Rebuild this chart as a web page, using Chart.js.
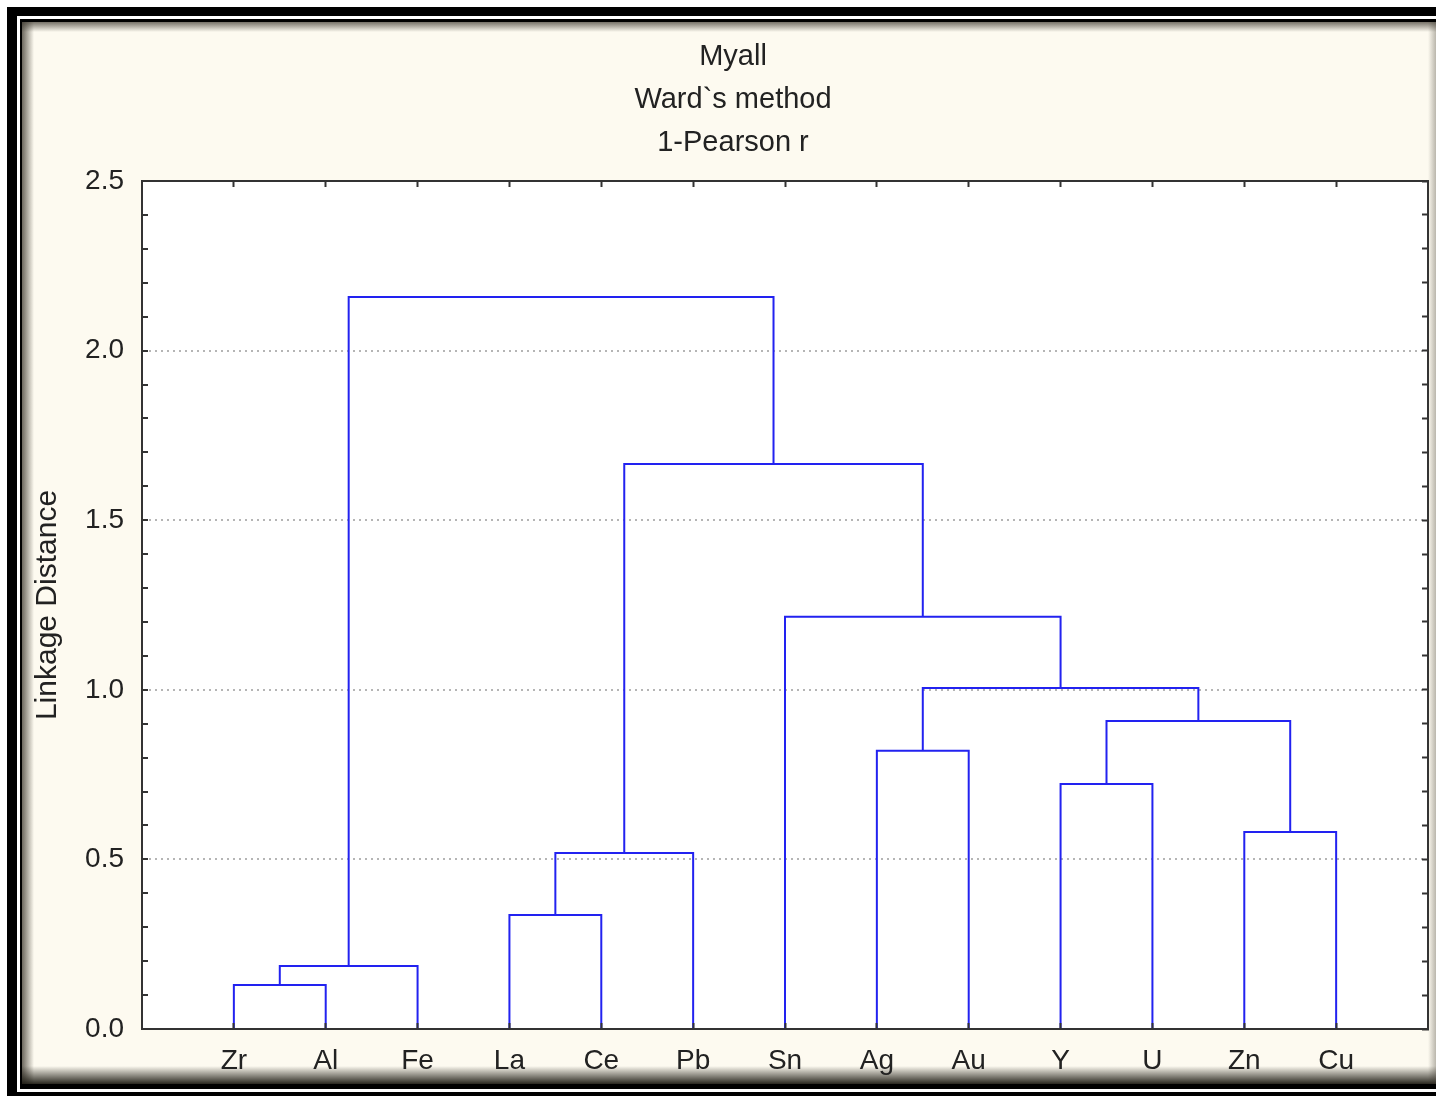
<!DOCTYPE html>
<html>
<head>
<meta charset="utf-8">
<title>Myall - Ward`s method</title>
<script src="https://cdn.jsdelivr.net/npm/chart.js@4.4.1/dist/chart.umd.min.js"></script>
<style>
  html, body { margin: 0; padding: 0; background: #fff; }
  canvas { display: block; }
</style>
</head>
<body>
<canvas id="dendro" width="1436" height="1096"></canvas>
<script>
const titleLines = ['Myall', 'Ward`s method', '1-Pearson r'];
const axisTitle = 'Linkage Distance';
const leaves = ['Zr', 'Al', 'Fe', 'La', 'Ce', 'Pb', 'Sn', 'Ag', 'Au', 'Y', 'U', 'Zn', 'Cu'];
// linkage: ids 0..12 are the leaves, every merge makes a new node 13, 14, ...
const mergeLeft = [0, 13, 3, 15, 11, 9, 7, 18, 19, 6, 16, 14];
const mergeRight = [1, 2, 4, 5, 12, 10, 8, 17, 20, 21, 22, 23];
const mergeHeight = [0.13, 0.186, 0.336, 0.519, 0.581, 0.722, 0.82, 0.908, 1.005, 1.215, 1.666, 2.158];
const yTicks = [0.0, 0.5, 1.0, 1.5, 2.0, 2.5];

const FONT = "'Liberation Sans', Arial, sans-serif";
const TEXT = '#222';
const BLUE = '#2222f0';

// node positions: leaves sit at 1..n on the x scale
const nodeX = leaves.map((_, i) => i + 1);
const nodeH = leaves.map(() => 0);
const datasets = [];
mergeHeight.forEach((h, i) => {
    const a = mergeLeft[i], b = mergeRight[i];
    datasets.push({
        data: [
            { x: nodeX[a], y: nodeH[a] },
            { x: nodeX[a], y: h },
            { x: nodeX[b], y: h },
            { x: nodeX[b], y: nodeH[b] }
        ],
        showLine: true,
        borderColor: BLUE,
        borderWidth: 2,
        pointRadius: 0,
        fill: false,
        tension: 0
    });
    nodeX.push((nodeX[a] + nodeX[b]) / 2);
    nodeH.push(h);
});

const isMajor = v => yTicks.some(t => Math.abs(t - v) < 1e-9);
const leafTicks = scale => { scale.ticks = leaves.map((_, i) => ({ value: i + 1 })); };

const framePlugin = {
    id: 'frame',
    beforeDraw(chart) {
        const { ctx, width, height, chartArea: a } = chart;
        ctx.save();
        ctx.fillStyle = '#fff';
        ctx.fillRect(0, 0, width, height);
        ctx.fillStyle = '#000';
        ctx.fillRect(7, 7, width, height);
        ctx.fillStyle = '#fff';
        ctx.fillRect(17, 16, width, 1076);
        ctx.fillStyle = '#000';
        ctx.fillRect(20, 19, width, 1070);
        ctx.fillStyle = '#fdfaf0';
        ctx.fillRect(22, 22, width, 1062);

        // inner shadow of the panel
        let g = ctx.createLinearGradient(22, 0, 34, 0);
        g.addColorStop(0, 'rgba(60,55,45,0.75)');
        g.addColorStop(1, 'rgba(60,55,45,0)');
        ctx.fillStyle = g;
        ctx.fillRect(22, 22, 12, 1062);
        g = ctx.createLinearGradient(0, 22, 0, 32);
        g.addColorStop(0, 'rgba(60,55,45,0.7)');
        g.addColorStop(1, 'rgba(60,55,45,0)');
        ctx.fillStyle = g;
        ctx.fillRect(22, 22, width, 10);
        g = ctx.createLinearGradient(0, 1084, 0, 1066);
        g.addColorStop(0, 'rgba(30,28,20,0.95)');
        g.addColorStop(1, 'rgba(30,28,20,0)');
        ctx.fillStyle = g;
        ctx.fillRect(22, 1066, width, 18);
        g = ctx.createLinearGradient(width, 0, width - 8, 0);
        g.addColorStop(0, 'rgba(60,55,45,0.35)');
        g.addColorStop(1, 'rgba(60,55,45,0)');
        ctx.fillStyle = g;
        ctx.fillRect(width - 8, 22, 8, 1062);

        // white plot area
        ctx.fillStyle = '#fff';
        ctx.fillRect(a.left, a.top, a.right - a.left, a.bottom - a.top);
        ctx.restore();
    }
};

const axisBorder = { color: '#333', width: 2 };

new Chart(document.getElementById('dendro'), {
    type: 'scatter',
    data: { datasets },
    options: {
        responsive: false,
        animation: false,
        events: [],
        layout: { padding: { left: 30, right: 0, top: 0, bottom: 0 } },
        plugins: {
            legend: { display: false },
            tooltip: { enabled: false },
            title: {
                display: true,
                text: titleLines,
                color: TEXT,
                font: { family: FONT, size: 29, weight: 'normal', lineHeight: '43px' },
                padding: { top: 35.5, bottom: 0 }
            }
        },
        scales: {
            x: {
                type: 'linear',
                position: 'bottom',
                min: 0,
                max: leaves.length + 1,
                afterBuildTicks: leafTicks,
                afterFit: s => { s.height = 67; },
                ticks: {
                    autoSkip: false,
                    maxRotation: 0,
                    padding: 21,
                    color: TEXT,
                    font: { family: FONT, size: 28 },
                    callback: v => leaves[v - 1]
                },
                grid: { drawOnChartArea: false, tickLength: -6, tickColor: '#333', tickWidth: 2, z: 1 },
                border: { color: '#333', width: 2, z: 1 }
            },
            x2: {
                type: 'linear',
                axis: 'x',
                position: 'top',
                min: 0,
                max: leaves.length + 1,
                afterBuildTicks: leafTicks,
                afterFit: s => { s.height = 16.5; },
                ticks: { display: false, autoSkip: false },
                grid: { drawOnChartArea: false, tickLength: -6, tickColor: '#333', tickWidth: 2 },
                border: axisBorder
            },
            y: {
                type: 'linear',
                position: 'left',
                min: yTicks[0],
                max: yTicks[yTicks.length - 1],
                afterFit: s => { s.width = 112; },
                ticks: {
                    stepSize: 0.1,
                    autoSkip: false,
                    padding: 24,
                    color: TEXT,
                    font: { family: FONT, size: 28 },
                    callback: v => isMajor(v) ? v.toFixed(1) : ''
                },
                title: {
                    display: true,
                    text: axisTitle,
                    color: TEXT,
                    font: { family: FONT, size: 30 },
                    padding: { top: 0, bottom: 0 }
                },
                grid: {
                    color: c => (isMajor(c.tick.value) && c.tick.value > 0 && c.tick.value < 2.5) ? '#b5b5b5' : 'rgba(0,0,0,0)',
                    lineWidth: 2,
                    tickLength: -6,
                    tickColor: '#333',
                    tickWidth: 2
                },
                border: { color: '#333', width: 2, dash: [2, 4] }
            },
            y2: {
                type: 'linear',
                axis: 'y',
                position: 'right',
                min: yTicks[0],
                max: yTicks[yTicks.length - 1],
                afterFit: s => { s.width = 8; },
                ticks: { display: false, stepSize: 0.1, autoSkip: false },
                grid: { drawOnChartArea: false, tickLength: -6, tickColor: '#333', tickWidth: 2 },
                border: axisBorder
            }
        }
    },
    plugins: [framePlugin]
});
</script>
</body>
</html>
